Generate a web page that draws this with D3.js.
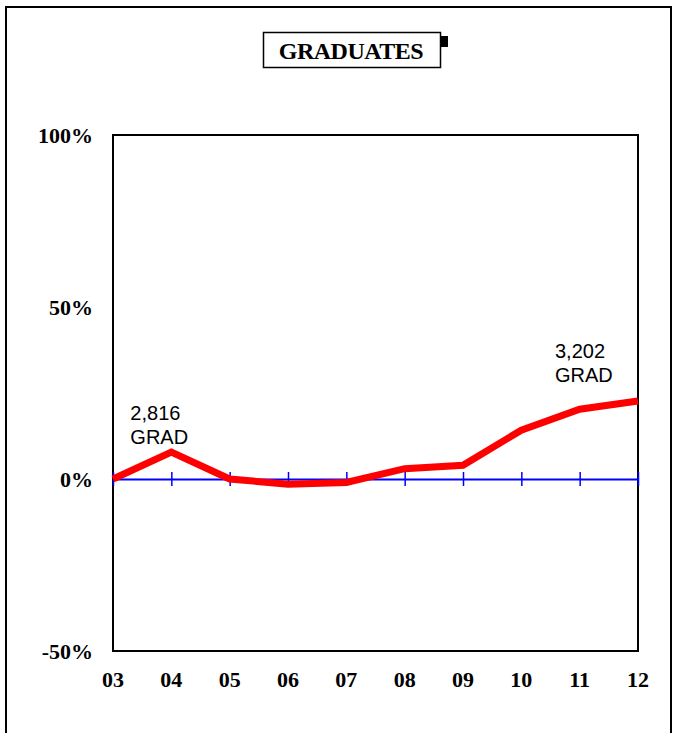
<!DOCTYPE html>
<html>
<head>
<meta charset="utf-8">
<script src="https://cdn.jsdelivr.net/npm/d3@7"></script>
<style>
  body { margin: 0; background: #fff; }
  svg { display: block; }
</style>
</head>
<body>
<svg id="chart" width="673" height="733"></svg>
<script>
const years = ['03', '04', '05', '06', '07', '08', '09', '10', '11', '12'];
const pctChange = [0, 7.8, 0, -1.5, -1.0, 3.0, 4.0, 14.2, 20.3, 22.7];
const yTicks = [-50, 0, 50, 100];
const notes = [
  { year: '04', lines: ['2,816', 'GRAD'], dx: -41, y: 420 },
  { year: '12', lines: ['3,202', 'GRAD'], dx: -83, y: 358 }
];

const svg = d3.select('#chart');
const serif = '"Liberation Serif", "Times New Roman", serif';
const sans = '"Liberation Sans", Arial, sans-serif';

// outer frame
svg.append('rect')
  .attr('x', 6).attr('y', 7).attr('width', 665).attr('height', 740)
  .attr('fill', 'none').attr('stroke', '#000').attr('stroke-width', 2);

// title box
svg.append('rect').attr('x', 441).attr('y', 36).attr('width', 7).attr('height', 11).attr('fill', '#000');
svg.append('rect')
  .attr('x', 263.5).attr('y', 32.5).attr('width', 177).attr('height', 35)
  .attr('fill', '#fff').attr('stroke', '#000').attr('stroke-width', 1.5);
svg.append('text')
  .attr('x', 351).attr('y', 59)
  .attr('text-anchor', 'middle')
  .attr('font-family', serif).attr('font-weight', 'bold').attr('font-size', 24)
  .attr('letter-spacing', -0.5)
  .text('GRADUATES');

const plotL = 113, plotR = 638, plotT = 135, plotB = 651;

const x = d3.scalePoint().domain(years).range([plotL, plotR]);
const y = d3.scaleLinear().domain([-50, 100]).range([plotB, plotT]);

// plot frame
svg.append('rect')
  .attr('x', plotL).attr('y', plotT).attr('width', plotR - plotL).attr('height', plotB - plotT)
  .attr('fill', 'none').attr('stroke', '#000').attr('stroke-width', 2);

// zero line with ticks
const zero = svg.append('g').attr('transform', `translate(0,${y(0)})`)
  .call(d3.axisBottom(x).tickSize(0).tickFormat(''));
zero.select('.domain').attr('stroke', '#0000ff').attr('stroke-width', 2);
zero.selectAll('.tick line')
  .attr('stroke', '#0000ff').attr('stroke-width', 1.5)
  .attr('y1', -7).attr('y2', 7);

// y tick labels
svg.append('g').selectAll('text')
  .data(yTicks)
  .join('text')
  .attr('x', 93)
  .attr('y', d => y(d) + 8)
  .attr('text-anchor', 'end')
  .attr('font-family', serif).attr('font-weight', 'bold').attr('font-size', 22)
  .text(d => d + '%');

// x tick labels
svg.append('g').selectAll('text')
  .data(years)
  .join('text')
  .attr('x', d => x(d))
  .attr('y', 687)
  .attr('text-anchor', 'middle')
  .attr('font-family', serif).attr('font-weight', 'bold').attr('font-size', 22)
  .text(d => d);

// line
const line = d3.line()
  .x((d, i) => x(years[i]))
  .y(d => y(d));

svg.append('path')
  .datum(pctChange)
  .attr('d', line)
  .attr('fill', 'none')
  .attr('stroke', '#ff0000')
  .attr('stroke-width', 7)
  .attr('stroke-linejoin', 'miter');

// annotations
notes.forEach(n => {
  const t = svg.append('text')
    .attr('font-family', sans).attr('font-size', 20).attr('fill', '#000');
  n.lines.forEach((s, i) => {
    t.append('tspan')
      .attr('x', x(n.year) + n.dx)
      .attr('y', n.y + i * 24)
      .text(s);
  });
});
</script>
</body>
</html>
